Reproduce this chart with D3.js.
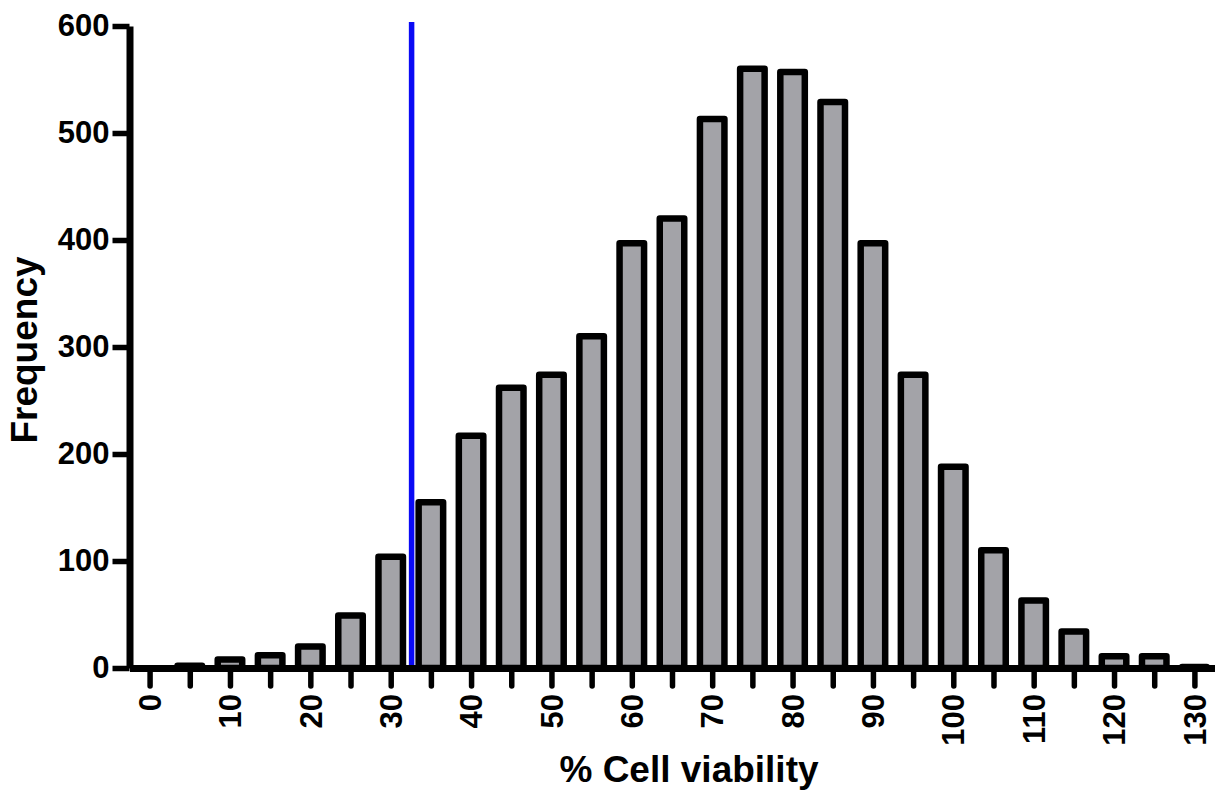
<!DOCTYPE html>
<html>
<head>
<meta charset="utf-8">
<script src="https://cdn.jsdelivr.net/npm/d3@7"></script>
<style>
  body { margin: 0; background: #fff; }
  text { font-family: "Liberation Sans", Arial, sans-serif; font-weight: bold; fill: #000; }
</style>
</head>
<body>
<div id="chart"></div>
<script>
// histogram bins (% cell viability, bin centre) and counts
const bins = [0, 5, 10, 15, 20, 25, 30, 35, 40, 45, 50, 55, 60, 65, 70, 75, 80, 85, 90, 95, 100, 105, 110, 115, 120, 125, 130];
const freq = [0, 2, 8, 12, 20, 49, 104, 155, 217, 262, 274, 310, 397, 420, 513, 560, 557, 529, 397, 274, 188, 110, 63, 34, 11, 11, 1];
const yTicks = [0, 100, 200, 300, 400, 500, 600];
const xLabelTicks = [0, 10, 20, 30, 40, 50, 60, 70, 80, 90, 100, 110, 120, 130];
const cutoff = 32.6;

const width = 1215, height = 790;

const svg = d3.select("#chart").append("svg")
    .attr("width", width)
    .attr("height", height);

const x = d3.scaleLinear()
    .domain([-2.5, 132.5])
    .range([129.5, 1214.5]);

const y = d3.scaleLinear()
    .domain([0, 600])
    .range([668, 26]);

const step = x(5) - x(0);
const barStroke = 6.5;
const barW = 31 - barStroke;

// bars
svg.selectAll("rect.bar")
    .data(bins)
    .enter().append("rect")
    .attr("class", "bar")
    .attr("x", (d) => x(d) - barW / 2)
    .attr("y", (d, i) => y(freq[i]))
    .attr("width", barW)
    .attr("height", (d, i) => y(0) - y(freq[i]))
    .attr("fill", "#a3a3a8")
    .attr("stroke", "#000")
    .attr("stroke-width", barStroke)
    .attr("stroke-linejoin", "round");

// cutoff line
svg.append("line")
    .attr("x1", x(cutoff)).attr("x2", x(cutoff))
    .attr("y1", 22).attr("y2", y(0))
    .attr("stroke", "#0a0af5")
    .attr("stroke-width", 5.5);

// x axis
const xAxis = d3.axisBottom(x)
    .tickValues(bins)
    .tickSize(18)
    .tickSizeOuter(0)
    .tickFormat("");

const gx = svg.append("g")
    .attr("transform", "translate(0," + y(0) + ")")
    .call(xAxis);
gx.select(".domain").attr("stroke-width", 7);
gx.selectAll(".tick line").attr("stroke-width", 5.5).attr("stroke-linecap", "round");

gx.selectAll("text.xl")
    .data(xLabelTicks)
    .enter().append("text")
    .attr("class", "xl")
    .attr("transform", (d) => "translate(" + x(d) + ",26) rotate(-90)")
    .attr("text-anchor", "end")
    .attr("dy", "0.36em")
    .style("font-size", "31px")
    .text((d) => d);

// y axis
const yAxis = d3.axisLeft(y)
    .tickValues(yTicks)
    .tickSize(17)
    .tickSizeOuter(0)
    .tickPadding(3);

const gy = svg.append("g")
    .attr("transform", "translate(" + x(-2.5) + ",0)")
    .call(yAxis);
gy.select(".domain").attr("stroke-width", 7);
gy.selectAll(".tick line").attr("stroke-width", 5.5);
gy.selectAll(".tick text")
    .style("font-size", "31px")
    .style("font-family", "'Liberation Sans', Arial, sans-serif")
    .style("font-weight", "bold")
    .attr("fill", "#000");

// axis titles
svg.append("text")
    .attr("x", 689)
    .attr("y", 782)
    .attr("text-anchor", "middle")
    .style("font-size", "37px")
    .text("% Cell viability");

svg.append("text")
    .attr("transform", "translate(37,350) rotate(-90)")
    .attr("text-anchor", "middle")
    .style("font-size", "37px")
    .text("Frequency");
</script>
</body>
</html>
